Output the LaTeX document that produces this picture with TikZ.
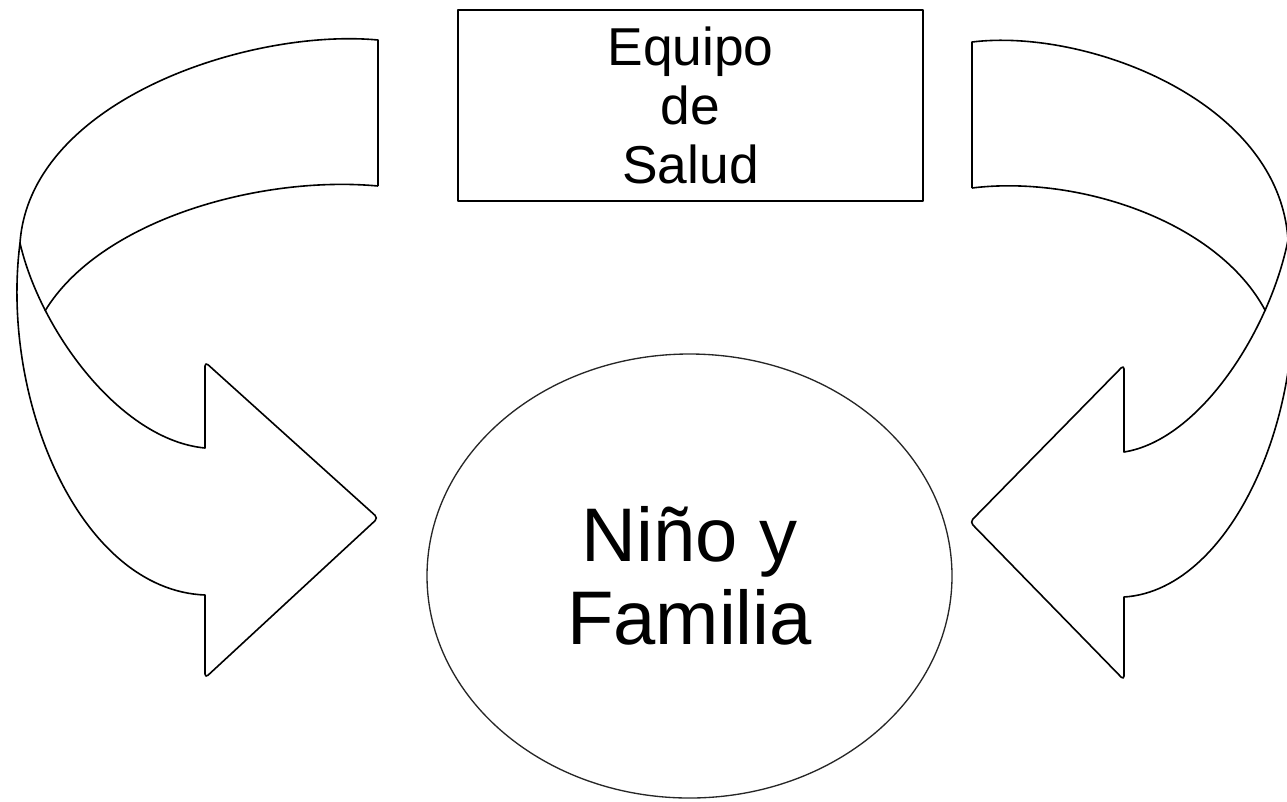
\documentclass[tikz,border=0pt]{standalone}
\usepackage{fontspec}
\setmainfont{Liberation Sans}
\usetikzlibrary{shapes.geometric}
\begin{document}
\begin{tikzpicture}[x=0.75pt,y=-0.75pt, line join=round,
  outline/.style={draw=black, line width=1.2pt},
  boxnode/.style={draw=black, line width=1.3pt, rectangle, minimum width=348.75pt, minimum height=143.25pt, inner sep=0pt, align=center, font=\fontsize{40}{44}\selectfont},
  ovalnode/.style={draw=black!85, line width=1pt, ellipse, minimum width=393.75pt, minimum height=333pt, inner sep=0pt, align=center, font=\fontsize{57}{62}\selectfont}]
\useasboundingbox (0,0) rectangle (1287,801);
\clip (0,0) rectangle (1287,801);
\node[boxnode] (equipo) at (690.5,105.5) {Equipo\\de\\Salud};
\node[ovalnode] (nino) at (689.5,576) {Niño y\\Familia};
% left curved arrow
\coordinate (LbT) at (378,40);
\coordinate (LbB) at (378,186);
\coordinate (LJ) at (20,243);
\coordinate (LK) at (45,311);
\coordinate (LhI) at (205,448);
\coordinate (LhT) at (205,362);
\coordinate (Ltip) at (378,518);
\coordinate (LhB) at (205,678);
\coordinate (LhO) at (205,595);
\draw[outline] (LbB) -- (LbT) .. controls (250,28) and (30,100) .. (LJ)
  .. controls (40,330) and (120,440) .. (LhI)
  [rounded corners=3pt] -- (LhT) -- (Ltip) -- (LhB) [sharp corners] -- (LhO)
  .. controls (80,590) and (0,400) .. (LJ);
\draw[outline] (LbB) .. controls (260,175) and (100,220) .. (LK);
% right curved arrow
\coordinate (RbT) at (972,42);
\coordinate (RbB) at (972,188);
\coordinate (RJ) at (1288,240);
\coordinate (RK) at (1265.5,311);
\coordinate (RhI) at (1124,452);
\coordinate (RhT) at (1124,365);
\coordinate (Rtip) at (970,522);
\coordinate (RhB) at (1124,680);
\coordinate (RhO) at (1124,597);
\draw[outline] (RbB) -- (RbT) .. controls (1085,28) and (1279,100) .. (RJ)
  .. controls (1270,330) and (1200,440) .. (RhI)
  [rounded corners=3pt] -- (RhT) -- (Rtip) -- (RhB) [sharp corners] -- (RhO)
  .. controls (1235,590) and (1315,400) .. (RJ);
\draw[outline] (RbB) .. controls (1076,175) and (1217.5,220) .. (RK);
\end{tikzpicture}
\end{document}
